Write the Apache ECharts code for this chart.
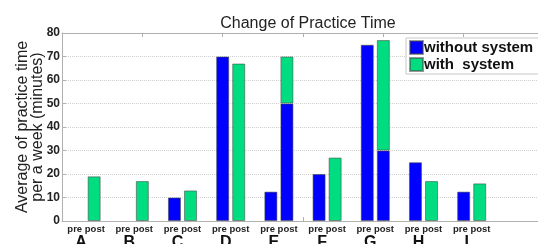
<!DOCTYPE html>
<html>
<head>
<meta charset="utf-8">
<script src="https://cdn.jsdelivr.net/npm/echarts@6/dist/echarts.min.js"></script>
<style>
  html, body { margin: 0; padding: 0; background: #fff; }
  #chart { width: 538px; height: 244px; }
</style>
</head>
<body>
<div id="chart"></div>
<script>
// Groupes et positions des barres sur l'axe x (pre / post)
const groups = ['A', 'B', 'C', 'D', 'E', 'F', 'G', 'H', 'I'];
const prePos = [1, 4, 7, 10, 13, 16, 19, 22, 25];
const postPos = [2, 5, 8, 11, 14, 17, 20, 23, 26];
const X_MAX = 30;

// Valeurs (minutes), null = pas de barre
const preWithout = [null, null, 10, 70, 12.5, 20, 75, 25, 12.5];
const postWithout = [null, null, null, null, 50, null, 30, null, null];
const postWith = [19, 17, 13, 67, 20, 27, 47, 17, 16];

const yTicks = [0, 10, 20, 30, 40, 50, 60, 70, 80];

const BLUE = '#0000ff';
const GREEN = '#00dd80';
const FONT = '"Liberation Sans", Arial, sans-serif';

// Axe catégoriel 0..30 (boundaryGap false) : une case par unité x
const slots = [];
for (let k = 0; k <= X_MAX; k++) slots.push(String(k));
const withoutData = slots.map(() => null);
const withData = slots.map(() => null);
groups.forEach((g, i) => {
  withoutData[prePos[i]] = preWithout[i];
  withoutData[postPos[i]] = postWithout[i];
  withData[postPos[i]] = postWith[i];
});
const groupCenters = groups.map((g, i) => (prePos[i] + postPos[i]) / 2);

const chart = echarts.init(document.getElementById('chart'), null, { renderer: 'canvas' });

const barStyle = color => ({ color, borderColor: 'rgba(70,70,70,0.55)', borderWidth: 1 });
const gray = '#b0b0b0';

chart.setOption({
  animation: false,
  backgroundColor: '#fff',
  title: {
    text: 'Change of Practice Time',
    left: 303,
    textAlign: 'center',
    top: 11,
    textStyle: { fontFamily: FONT, fontSize: 16, fontWeight: 'normal', color: '#222' },
  },
  legend: {
    orient: 'vertical',
    left: 406,
    top: 38,
    padding: [2, 10, 2, 3],
    itemWidth: 13,
    itemHeight: 13,
    itemGap: 2,
    backgroundColor: '#fff',
    borderColor: '#c8c8c8',
    borderWidth: 1,
    borderRadius: 0,
    icon: 'rect',
    textStyle: { fontFamily: FONT, fontSize: 15, fontWeight: 'bold', color: '#111', lineHeight: 15, padding: [0, 0, 0, -4] },
    data: ['without system', 'with  system'],
  },
  grid: { left: 62, right: -6, top: 33, bottom: 23, outerBoundsMode: 'none' },
  xAxis: [
    {
      type: 'category',
      data: slots,
      boundaryGap: false,
      position: 'bottom',
      axisLine: { lineStyle: { color: gray, width: 1 } },
      axisTick: { inside: true, length: 4, interval: i => i % 5 === 0, lineStyle: { color: gray } },
      axisLabel: { show: false },
      splitLine: { show: false },
    },
    {
      type: 'value',
      min: 0,
      max: X_MAX,
      position: 'bottom',
      axisLine: { show: false },
      axisTick: { show: false },
      splitLine: { show: false },
      axisLabel: {
        customValues: groupCenters,
        margin: 4,
        formatter: v => {
          const i = groupCenters.indexOf(v);
          return '{p|pre post}\n{g|' + groups[i] + '}';
        },
        rich: {
          p: { fontFamily: FONT, fontSize: 9.5, fontWeight: 'bold', color: '#222', lineHeight: 9 },
          g: { fontFamily: FONT, fontSize: 16, fontWeight: 'bold', color: '#111', lineHeight: 17, padding: [0, 10, 0, 0] },
        },
      },
    },
    {
      type: 'value',
      min: 0,
      max: X_MAX,
      interval: 5,
      position: 'top',
      axisLine: { lineStyle: { color: gray, width: 1 } },
      axisTick: { inside: true, length: 4, lineStyle: { color: gray } },
      axisLabel: { show: false },
      splitLine: { show: false },
    },
  ],
  yAxis: {
    type: 'value',
    min: yTicks[0],
    max: yTicks[yTicks.length - 1],
    interval: 10,
    name: 'Average of practice time\nper a week (minutes)',
    nameLocation: 'middle',
    nameGap: 17,
    nameMoveOverlap: false,
    nameTextStyle: { fontFamily: FONT, fontSize: 16, color: '#222', lineHeight: 15 },
    axisLine: { show: true, lineStyle: { color: gray, width: 1 } },
    axisTick: { show: true, inside: true, length: 4, lineStyle: { color: gray } },
    axisLabel: { fontFamily: FONT, fontSize: 12, fontWeight: 'bold', color: '#222', margin: 2 },
    splitLine: { show: true, lineStyle: { color: '#cfcfcf', type: 'dotted', width: 1 } },
  },
  series: [
    {
      name: 'without system',
      type: 'bar',
      stack: 'total',
      barWidth: 13,
      itemStyle: barStyle(BLUE),
      data: withoutData,
    },
    {
      name: 'with  system',
      type: 'bar',
      stack: 'total',
      barWidth: 13,
      itemStyle: barStyle(GREEN),
      data: withData,
    },
  ],
});
</script>
</body>
</html>
